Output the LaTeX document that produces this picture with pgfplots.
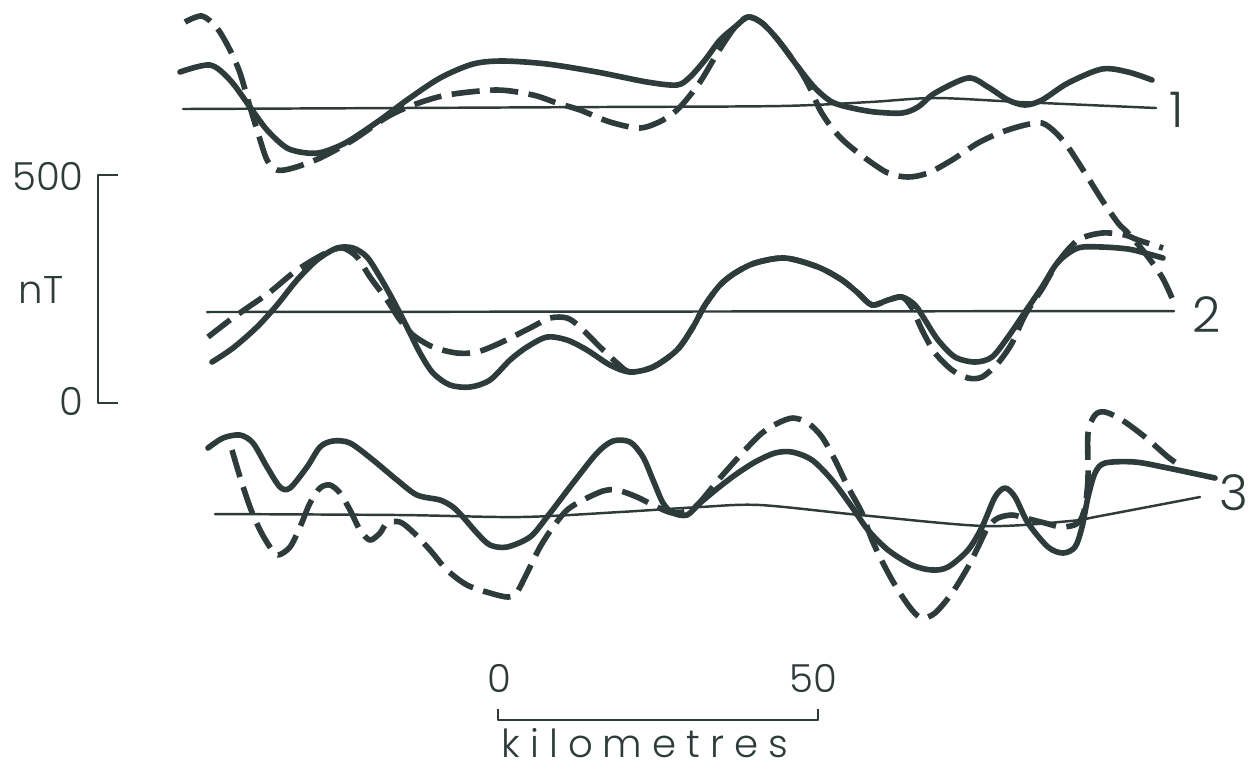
\documentclass[border=0pt]{standalone}
\usepackage{pgfplots}
\pgfplotsset{compat=1.18}
\usepackage{fontspec}
\setmainfont{Poppins}[UprightFont=* Light]
\definecolor{ink}{RGB}{45,60,58}
\tikzset{
  thinline/.style={line width=0.7pt, smooth},
  obs/.style={line width=1.6pt, smooth, tension=0.5},
  calc/.style={line width=1.6pt, smooth, tension=0.5, line cap=butt, dash pattern=on 8pt off 3pt},
  lbl/.style={font=\fontsize{11}{13}\selectfont, text=ink, anchor=base, inner sep=0pt},
  num/.style={font=\fontsize{14}{16}\selectfont, text=ink, anchor=base, inner sep=0pt},
}

\begin{document}
\begin{tikzpicture}
\begin{axis}[
  width=12.57cm, height=7.75cm, scale only axis,
  xmin=0, xmax=1257, ymin=0, ymax=775, y dir=reverse,
  axis lines=none, clip=false,
  every axis plot/.append style={ink, line cap=round, line join=round},
]
\addplot[draw=none] coordinates {(0,0) (1257,775)};

% ---- profile 1
\addplot[thinline] coordinates {(183,109) (400,108) (600,107) (780,106) (870,102) (935,98) (1020,102) (1156,108)};
\addplot[obs] table {
180 72
210 65
230 80
250 107
267 130
287 148
307 153
323 152
347 142
380 120
407 100
440 78
473 64
503 61
547 64
597 72
647 82
677 85
690 77
705 60
720 40
735 27
748 17
762 23
778 40
798 67
815 88
832 102
852 108
875 112
902 113
918 107
935 93
968 78
988 87
1008 100
1025 105
1042 100
1068 83
1102 69
1128 72
1152 80
};
\addplot[calc] table {
185 22
202 16
217 28
230 50
240 73
250 107
258 133
267 160
277 170
293 168
320 158
353 140
387 117
413 105
447 95
497 90
533 95
557 103
580 110
610 122
640 128
663 120
680 107
700 82
718 52
735 27
748 17
762 23
778 40
798 67
810 88
820 110
832 128
845 142
865 158
888 173
908 177
928 173
952 160
978 143
1002 132
1025 125
1042 123
1055 132
1068 147
1085 173
1102 200
1118 223
1128 233
1145 253
1162 277
1172 298
};

% ---- profile 2
\addplot[thinline] coordinates {(207,312) (1174,311)};
\addplot[obs] table {
212 362
233 348
257 327
277 305
297 280
317 260
337 248
353 248
367 257
380 277
393 300
407 327
420 353
433 373
450 385
470 387
490 380
510 360
527 347
547 337
567 340
587 350
610 365
630 372
653 367
677 350
693 327
705 305
720 285
735 273
755 263
785 258
818 267
842 280
858 293
872 305
888 300
902 297
915 305
925 320
938 340
955 357
975 362
992 357
1008 337
1025 312
1042 287
1058 262
1078 248
1102 247
1128 249
1145 253
1163 258
};
\addplot[calc] table {
208 337
230 320
247 308
270 292
293 273
313 260
330 251
343 248
357 257
370 277
387 300
400 320
413 335
433 347
457 353
477 352
500 343
530 328
550 318
567 318
580 327
600 347
617 363
630 372
653 367
677 350
693 327
705 305
720 285
735 273
755 263
785 258
818 267
842 280
858 293
872 305
888 300
902 297
912 308
922 330
935 353
952 370
968 378
982 377
998 363
1012 343
1025 315
1042 289
1058 262
1078 240
1102 233
1125 235
1138 240
1163 248
};

% ---- profile 3
\addplot[thinline] coordinates {(215,514) (400,515) (520,517) (620,512) (700,507) (760,505) (860,515) (985,526) (1070,521) (1100,516) (1200,497)};
\addplot[obs] table {
208 448
223 438
240 435
253 443
267 467
280 487
290 488
307 467
320 447
333 441
350 443
373 460
397 480
417 495
440 500
453 507
463 517
477 533
490 545
507 547
530 537
547 517
573 483
597 453
613 441
630 442
643 457
653 480
663 503
673 513
687 515
700 503
718 488
735 475
755 462
775 453
792 452
812 460
832 480
852 507
868 530
888 550
912 565
932 570
948 567
968 550
982 527
995 497
1005 488
1015 497
1028 523
1048 547
1063 553
1075 547
1082 527
1088 497
1095 473
1105 463
1135 462
1168 468
1215 478
};
\addplot[calc] table {
232 450
240 477
250 507
260 530
270 547
278 555
290 547
300 527
310 503
320 488
330 485
340 493
350 510
360 530
370 540
380 533
387 523
400 522
413 532
430 550
447 570
467 585
490 593
508 597
517 592
527 573
540 547
553 527
567 510
583 500
603 491
617 490
637 497
657 507
673 513
690 510
700 502
720 478
745 450
762 433
778 423
793 418
808 423
822 437
835 460
848 487
862 513
872 540
885 567
898 590
912 610
922 618
935 613
952 593
968 567
978 547
988 527
998 518
1012 515
1025 518
1045 523
1062 527
1078 523
1085 507
1088 477
1088 433
1095 415
1105 412
1122 420
1145 437
1168 457
1182 467
};

% ---- scale bars
\addplot[line width=0.8pt, line cap=butt] coordinates {(118,175) (98,175) (98,403) (118,403)};
\addplot[line width=0.8pt, line cap=butt] coordinates {(498,709) (498,720) (818,720) (818,709)};

\node[lbl] at (axis cs:48,190) {500};
\node[lbl] at (axis cs:41,303) {nT};
\node[lbl] at (axis cs:71,415) {0};
\node[lbl] at (axis cs:499,692) {0};
\node[lbl] at (axis cs:813,692) {50};
\node[lbl] at (axis cs:645,757) {\addfontfeature{LetterSpace=26}kilometres};
\node[num] at (axis cs:1177,127) {1};
\node[num] at (axis cs:1207,332) {2};
\node[num] at (axis cs:1234,510) {3};
\end{axis}
\end{tikzpicture}
\end{document}
